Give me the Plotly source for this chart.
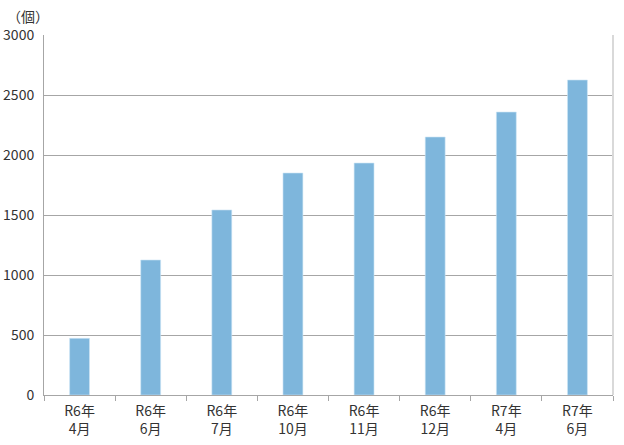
"""
月別個数の棒グラフ
"""
import plotly.graph_objects as go

# データ
periods = ['R6年<br>4月', 'R6年<br>6月', 'R6年<br>7月', 'R6年<br>10月',
           'R6年<br>11月', 'R6年<br>12月', 'R7年<br>4月', 'R7年<br>6月']
counts = [472, 1125, 1542, 1850, 1933, 2150, 2358, 2625]
y_ticks = [0, 500, 1000, 1500, 2000, 2500, 3000]

FONT = 'Noto Sans CJK JP'

fig = go.Figure(go.Bar(
    x=periods,
    y=counts,
    marker=dict(color='#7eb6dc', line=dict(color='#cfe6f5', width=0.6)),
    width=0.28,
))

fig.update_layout(
    width=624, height=445,
    margin=dict(l=44, r=11, t=35, b=50),
    plot_bgcolor='white',
    paper_bgcolor='white',
    font=dict(family=FONT, size=13, color='#333333'),
    showlegend=False,
    annotations=[dict(
        text='（個）', x=0, y=1, xref='paper', yref='paper',
        xanchor='left', yanchor='middle', xshift=-39, yshift=19,
        showarrow=False, font=dict(family=FONT, size=14, color='#333333'),
    )],
)

fig.update_xaxes(
    type='category',
    tickson='boundaries',
    ticks='outside', ticklen=5, tickcolor='#a6a6a6',
    showline=True, linecolor='#a6a6a6', linewidth=1,
    mirror=False,
    tickfont=dict(family=FONT, size=14, color='#333333'),
    ticklabelstandoff=3,
    showgrid=False,
    automargin=False,
)

fig.update_yaxes(
    range=[0, 3000],
    tickvals=y_ticks,
    showgrid=True, gridcolor='#a6a6a6', gridwidth=1,
    showline=True, linecolor='#a6a6a6', linewidth=1,
    ticks='', ticklabelstandoff=6,
    tickfont=dict(family=FONT, size=14, color='#333333'),
    zeroline=False,
    automargin=False,
)

# 右側の枠線
fig.add_shape(type='line', xref='paper', yref='paper', x0=1, x1=1, y0=0, y1=1,
              line=dict(color='#d9d9d9', width=2))

# ページ本体の余白をなくす
fig.write_html("out.html", config={'displayModeBar': False},
               post_script="document.body.style.margin='0';")
